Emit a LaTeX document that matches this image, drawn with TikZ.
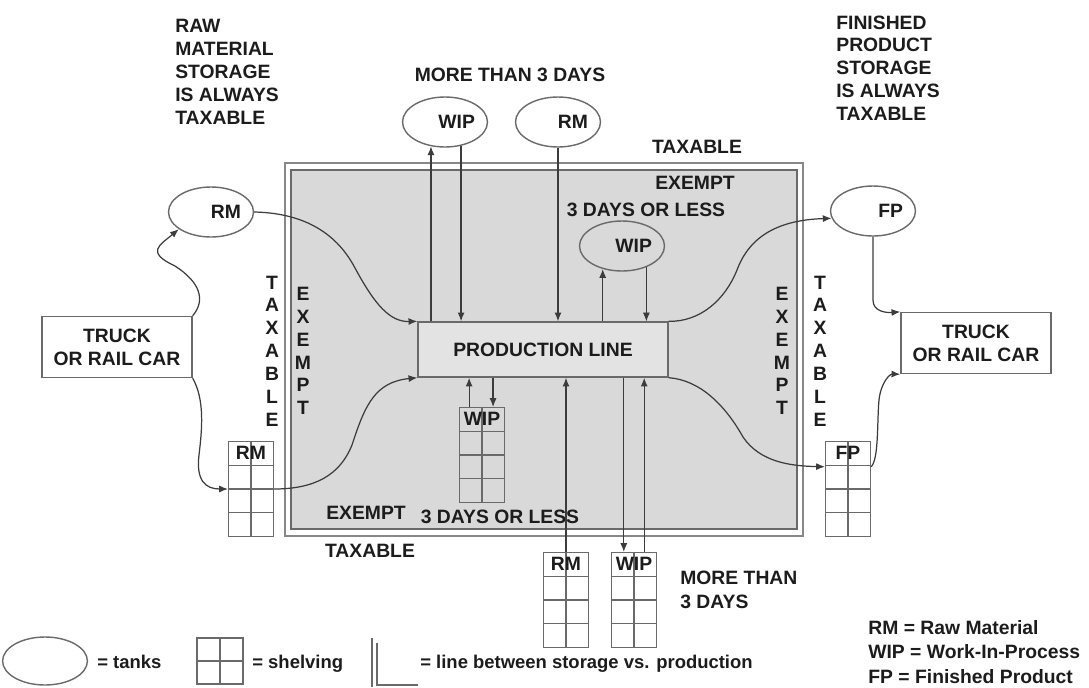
\documentclass[tikz,border=0pt]{standalone}
\usepackage{fontspec}
\setmainfont{Liberation Sans}
\usetikzlibrary{arrows.meta, shapes.geometric, calc}

\definecolor{zonegray}{HTML}{D9D9D9}
\definecolor{prodgray}{HTML}{E3E3E3}
\definecolor{edgegray}{HTML}{6A6A6A}
\definecolor{wiregray}{HTML}{3C3C3C}
\definecolor{inkgray}{HTML}{1C1C1C}

\begin{document}
\begin{tikzpicture}[x=0.02cm, y=-0.02cm,
  lbl/.style={font=\bfseries\fontsize{11}{13}\selectfont, text=inkgray, inner sep=0pt},
  keytxt/.style={lbl, font=\bfseries\fontsize{10.5}{14}\selectfont},
  vlbl/.style={lbl, align=center},
  tank/.style={ellipse, draw=edgegray, line width=0.8pt, minimum width=1.7cm, minimum height=1cm, text width=1.2cm, align=right, lbl},
  truck/.style={draw=edgegray, line width=0.8pt, fill=white, minimum width=3cm, minimum height=1.22cm, align=center, lbl},
  prodbox/.style={draw=edgegray, line width=0.8pt, fill=prodgray, minimum width=5cm, minimum height=1.1cm, lbl},
  shelf/.style={draw=edgegray, line width=0.6pt, minimum width=0.9cm, minimum height=1.9cm, inner sep=0pt,
    path picture={
      \draw[edgegray, line width=0.6pt] (path picture bounding box.north) -- (path picture bounding box.south);
      \foreach \row in {1,2,3}
        \draw[edgegray, line width=0.6pt]
          ($(path picture bounding box.north west)!\row/4!(path picture bounding box.south west)$) --
          ($(path picture bounding box.north east)!\row/4!(path picture bounding box.south east)$);},
    label={[lbl, anchor=north, yshift=-2.5pt]north:#1}},
  gridsq/.style={draw=edgegray, line width=0.6pt, minimum width=0.92cm, minimum height=0.92cm, inner sep=0pt,
    path picture={\draw[edgegray, line width=0.6pt]
      (path picture bounding box.north) -- (path picture bounding box.south)
      (path picture bounding box.west) -- (path picture bounding box.east);}},
  arr/.style={draw=wiregray, line width=0.7pt, -{Latex[length=5pt, width=4pt]}}]

\useasboundingbox (0,0) rectangle (1089,687);

\draw[edgegray!80, line width=0.9pt] (285,163) rectangle (803,536);
\draw[edgegray, line width=0.9pt, fill=zonegray] (291,170) rectangle (797,529);

\node[tank] (rmOut) at (211,212) {RM};
\node[tank] (wipTop) at (445,122) {WIP};
\node[tank] (rmTop) at (558,122) {RM};
\node[tank] (wipIn) at (622,246) {WIP};
\node[tank] (fpOut) at (873,211) {FP};
\node[truck] (truckIn) at (117,347) {TRUCK\\OR RAIL CAR};
\node[truck] (truckOut) at (976,343) {TRUCK\\OR RAIL CAR};
\node[prodbox] (prod) at (543,349.5) {PRODUCTION LINE};
\node[shelf=RM] (rmShelf) at (251,489) {};
\node[shelf=FP] (fpShelf) at (848,489) {};
\node[shelf=WIP] (wipShelf) at (482,455) {};
\node[shelf=RM] (rmStore) at (566,600) {};
\node[shelf=WIP] (wipStore) at (634,600) {};

\node[lbl, anchor=west, align=left] (rawNote) at (175,72) {RAW\\MATERIAL\\STORAGE\\IS ALWAYS\\TAXABLE};
\node[lbl, anchor=west, align=left] (fpNote) at (836,68) {FINISHED\\PRODUCT\\STORAGE\\IS ALWAYS\\TAXABLE};
\node[lbl] (longTop) at (510,75) {MORE THAN 3 DAYS};
\node[lbl] (taxTop) at (697,147) {TAXABLE};
\node[lbl] (exTop) at (695,183) {EXEMPT};
\node[lbl] (shortTop) at (646,210) {3 DAYS OR LESS};
\node[lbl] (exBot) at (366,513) {EXEMPT};
\node[lbl] (shortBot) at (500,517) {3 DAYS OR LESS};
\node[lbl] (taxBot) at (370,551) {TAXABLE};
\node[lbl, anchor=west, align=left, font=\bfseries\fontsize{11}{14}\selectfont] (longBot) at (680,590) {MORE THAN\\3 DAYS};
\node[vlbl] (taxL) at (272,351) {T\\A\\X\\A\\B\\L\\E};
\node[vlbl] (exL) at (303,351) {E\\X\\E\\M\\P\\T};
\node[vlbl] (exR) at (782,351) {E\\X\\E\\M\\P\\T};
\node[vlbl] (taxR) at (820,351) {T\\A\\X\\A\\B\\L\\E};

\draw[arr] (wipTop.240 |- prod.north) -- (wipTop.240);
\draw[arr] (wipTop.304) -- (wipTop.304 |- prod.north);
\draw[arr] (rmTop.south) -- (rmTop.south |- prod.north);
\draw[arr] (wipIn.230 |- prod.north) -- (wipIn.230);
\draw[arr, line width=0.5pt] (wipIn.319) -- (wipIn.319 |- prod.north);
\draw[arr] (wipShelf.105) -- (wipShelf.105 |- prod.south);
\draw[arr] (wipShelf.77 |- prod.south) -- (wipShelf.77);
\draw[arr] (rmStore.north) -- (rmStore.north |- prod.south);
\draw[arr] (wipStore.102 |- prod.south) -- (wipStore.102);
\draw[arr] (wipStore.78) -- (wipStore.78 |- prod.south);

\draw[arr] (truckIn.north east) .. controls (206,300) and (200,282) .. (175,266) .. controls (145,252) and (160,245) .. (rmOut.208);
\draw[arr] (truckIn.south east) .. controls (205,400) and (202,430) .. (199,455) .. controls (196,480) and (205,489) .. (rmShelf.west);
\draw[arr] (rmOut.east) .. controls (300,213) and (335,230) .. (355,268) .. controls (375,305) and (390,322) .. (prod.north west);
\draw[arr] (rmShelf.east) .. controls (315,489) and (340,475) .. (352,445) .. controls (365,405) and (375,382) .. (prod.south west);
\draw[arr] (prod.north east) .. controls (700,322) and (725,300) .. (737,270) .. controls (750,235) and (780,220) .. (fpOut.190);
\draw[arr] (prod.south east) .. controls (700,380) and (725,405) .. (743,437) .. controls (760,462) and (790,466) .. (fpShelf.136);
\draw[arr] (fpOut.south) -- (873,300) .. controls (873,311) and (885,313) .. (truckOut.north west);
\draw[arr] (fpShelf.44) .. controls (879,460) and (877,420) .. (879,400) .. controls (881,382) and (890,374) .. (truckOut.south west);

\node[tank, minimum width=1.6cm, minimum height=0.96cm] (tankKey) at (45,661) {};
\node[keytxt, anchor=base west] (tankTxt) at (97,668) {= tanks};
\node[gridsq] (shelfKey) at (220,661) {};
\node[keytxt, anchor=base west] (shelfTxt) at (252,668) {= shelving};
\draw[edgegray, line width=0.8pt] (372,638) -- (372,687);
\draw[edgegray, line width=0.8pt] (377,643) -- (377,685) -- (418,685);
\node[keytxt, anchor=base west] (lineTxt) at (420,668) {= line between storage vs. production};
\node[keytxt, anchor=south west, align=left, font=\bfseries\fontsize{11}{14}\selectfont] (abbrev) at (868,684) {RM = Raw Material\\WIP = Work-In-Process\\FP = Finished Product};
\end{tikzpicture}
\end{document}
